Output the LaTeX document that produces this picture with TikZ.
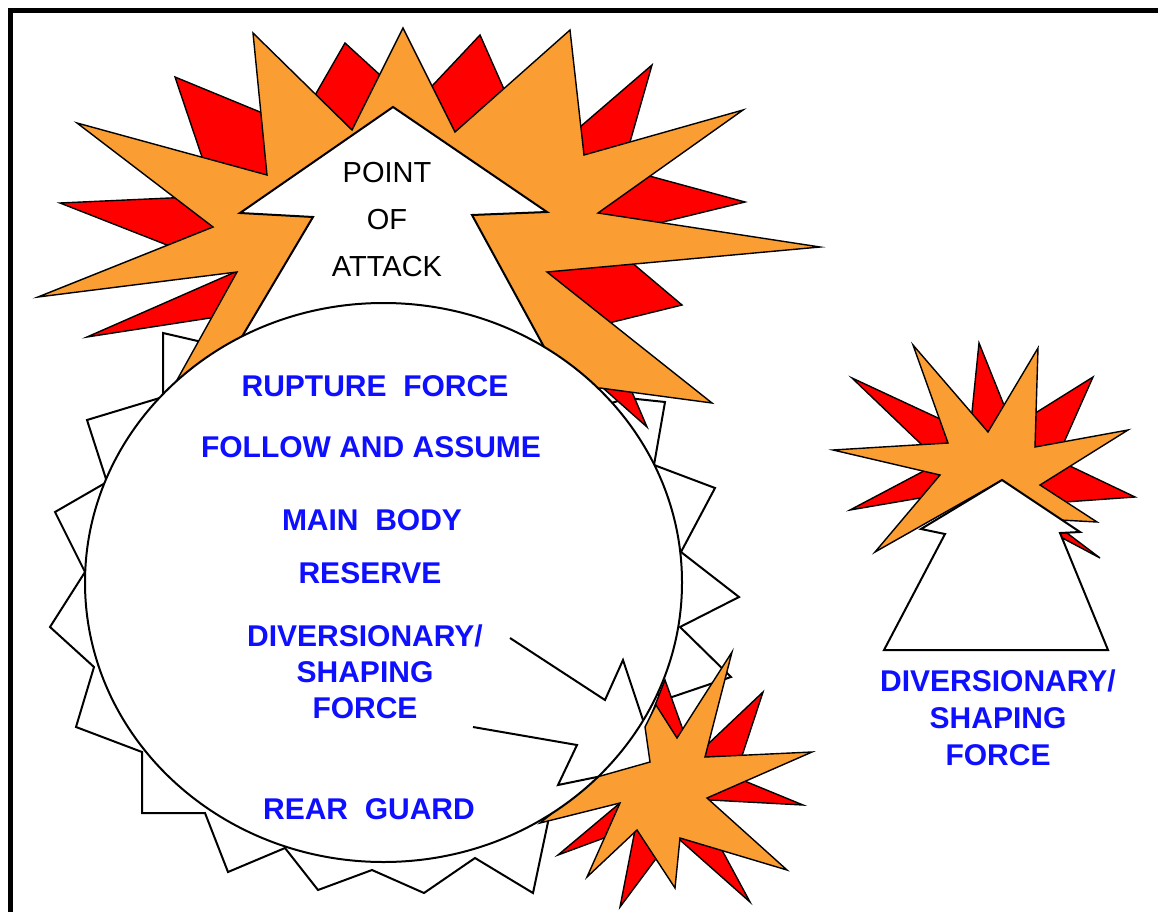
\documentclass[tikz,border=0pt]{standalone}
\usepackage{fontspec}
\setmainfont{Liberation Sans}

\definecolor{blastorange}{RGB}{250,157,50}
\definecolor{blastred}{RGB}{255,0,0}
\definecolor{unitblue}{RGB}{15,15,255}

\tikzstyle{boxline} = [line width=5pt]
\tikzstyle{ring} = [
    fill=white,
    draw=black,
    line width=2pt
]
\tikzstyle{flame} = [
    fill=blastred,
    draw=black,
    line width=1.4pt
]
\tikzstyle{blast} = [
    fill=blastorange,
    draw=black,
    line width=1.4pt
]
\tikzstyle{thrust} = [
    fill=white,
    draw=black,
    line width=2pt
]
\tikzstyle{breakout} = [line width=2pt]
\tikzstyle{unitname} = [
    text=unitblue,
    font=\fontsize{30}{36}\selectfont\bfseries,
    align=center,
    inner sep=0pt
]
\tikzstyle{aimtext} = [
    font=\fontsize{29}{47}\selectfont,
    align=center,
    inner sep=0pt
]

\begin{document}
\begin{tikzpicture}[x=1pt, y=-1pt]

\useasboundingbox (0,0) rectangle (1158,912);

% outer frame, cut off at the right and at the bottom
\draw [boxline] (10.5,912) -- (10.5,10.5) -- (1158,10.5);

% toothed rim behind the main force
\draw [ring] (215,345) -- (163,333) -- (163,397) -- (87,420) -- (107,482)
    -- (55,512) -- (85,572) -- (50,627) -- (94,667) -- (76,727)
    -- (142,752) -- (142,813) -- (205,813) -- (228,872) -- (285,848)
    -- (318,890) -- (372,870) -- (424,893) -- (475,858) -- (533,893)
    -- (548,822) -- (500,780) -- (630,690) -- (672,697) -- (731,677)
    -- (680,627) -- (739,597) -- (681,552) -- (715,488) -- (654,465)
    -- (665,402) -- (627,398) -- (560,420) -- (250,420) -- cycle;

% red flames, point of attack
\draw [flame] (60,203) -- (225,195.5) -- (390,230) -- (220.5,266) -- cycle;
\draw [flame] (175,77) -- (215.5,197) -- (390,230) -- (302.5,129.5) -- cycle;
\draw [flame] (345,43) -- (304.5,113.5) -- (390,230) -- (397.5,91) -- cycle;
\draw [flame] (480,35) -- (409.5,110) -- (390,230) -- (514.5,113) -- cycle;
\draw [flame] (652,65) -- (544,158) -- (390,230) -- (619,180.5) -- cycle;
\draw [flame] (745,202) -- (607,164.5) -- (390,230) -- (622,232) -- cycle;
\draw [flame] (682,305) -- (614.5,248) -- (390,230) -- (578.5,330.5) -- cycle;
\draw [flame] (647,427) -- (581,368.5) -- (560,330) -- (624.5,374.5) -- cycle;
\draw [flame] (87,337) -- (306,241) -- (390,230) -- (271.5,308.5) -- cycle;

% red flames, breakout
\draw [flame] (665,680) -- (650,718) -- (692,755) -- cycle;
\draw [flame] (763,692) -- (679,771.5) -- (737,771) -- cycle;
\draw [flame] (803,805) -- (719,770.5) -- (663.5,797.5) -- cycle;
\draw [flame] (750,902) -- (645,809) -- (709.5,827) -- cycle;
\draw [flame] (620,907) -- (642.5,791.5) -- (672.5,836.5) -- cycle;
\draw [flame] (558,855) -- (651,777) -- (627,829.5) -- cycle;

% red flames, diversion
\draw [flame] (852,378) -- (981,438) -- (957,478.5) -- cycle;
\draw [flame] (979,343) -- (968.5,446.5) -- (1015,432.5) -- cycle;
\draw [flame] (1093,377) -- (1009,429.5) -- (1051,471.5) -- cycle;
\draw [flame] (1135,497) -- (1040.5,452) -- (1030,504.5) -- cycle;
\draw [flame] (850,510) -- (955,454.5) -- (955,492) -- cycle;
\draw [flame] (1100,558) -- (1037,524.5) -- (1044.5,516) -- cycle;

% orange blasts
\draw [blast] (38,297) -- (213,227) -- (77,123) -- (267,175) -- (253,33)
    -- (352,130) -- (403,28) -- (455,132) -- (570,30) -- (584,155)
    -- (743,110) -- (598,213) -- (820,247) -- (547,272) -- (712,403)
    -- (600,388) -- (560,400) -- (400,330) -- (172,389) -- (237,272) -- cycle;

\draw [blast] (540,823) -- (575,795) -- (597,777) -- (650,762) -- (645,727)
    -- (656,705) -- (677,738) -- (732,652) -- (705,757) -- (812,752)
    -- (707,798) -- (787,870) -- (680,838) -- (675,888) -- (637,830)
    -- (587,877) -- (620,803) -- cycle;

\draw [blast] (833,450) -- (948,443) -- (913,345) -- (988,432) -- (1038,348)
    -- (1035,447) -- (1128,430) -- (1040,485) -- (1097,522) -- (1060,520)
    -- (1002,480) -- (875,552) -- (940,475) -- cycle;

% attack arrows
\draw [thrust] (224,367) -- (313,217) -- (240,213) -- (393,107) -- (547,212)
    -- (472,215) -- (555,367) -- cycle;
\draw [thrust] (1002,480) -- (921,529) -- (945,534) -- (884,650) -- (1108,650)
    -- (1060,533) -- (1080,532) -- cycle;

% main force
\draw [ring] (383.5,582.5) ellipse [x radius=298.5pt, y radius=279.5pt];

% diversion breaking out of the main force
\draw [breakout] (510,638) -- (605,700) -- (623,660) -- (643,720);
\draw [breakout] (473,727) -- (577,745) -- (558,785) -- (597,777);

% labels
\node (aim) [aimtext] at (387,220) {POINT\\OF\\ATTACK};

\node (rupture) [unitname] at (375,386) {RUPTURE\ \ FORCE};
\node (follow) [unitname] at (371,447) {FOLLOW AND ASSUME};
\node (mainbody) [unitname] at (372,520) {MAIN\ \ BODY};
\node (reserve) [unitname] at (370,573) {RESERVE};
\node (shaping) [unitname] at (365,671.5) {DIVERSIONARY/\\SHAPING\\FORCE};
\node (rearguard) [unitname] at (369,809) {REAR\ \ GUARD};

\node (shapingout) [unitname, font=\fontsize{30}{37}\selectfont\bfseries]
    at (998,717.5) {DIVERSIONARY/\\SHAPING\\FORCE};

\end{tikzpicture}
\end{document}
